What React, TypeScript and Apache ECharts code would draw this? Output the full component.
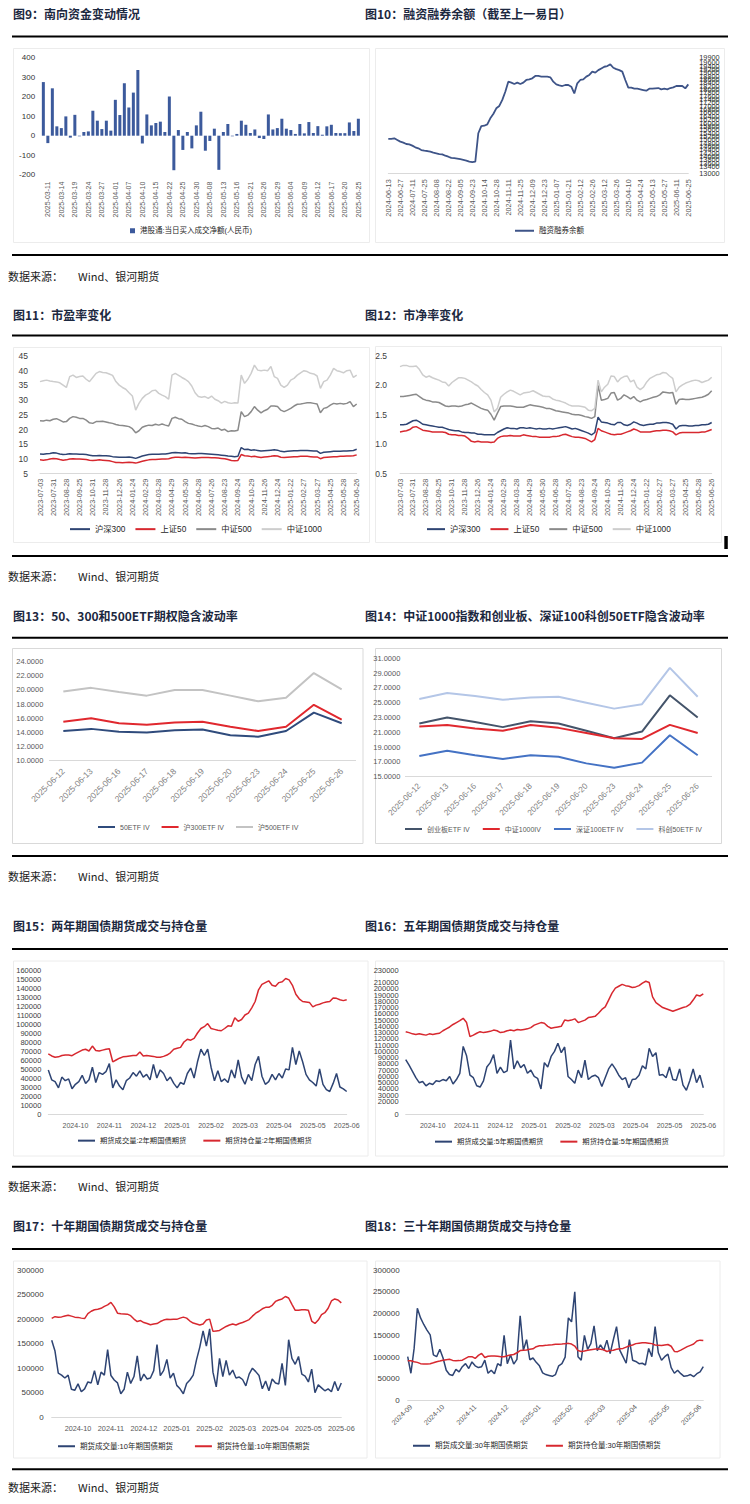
import React, { useEffect, useRef } from 'react';
import * as echarts from 'echarts';

// ---------------- 图9 南向资金 ----------------
const flowDates = ['2025-03-10','2025-03-11','2025-03-12','2025-03-13','2025-03-14','2025-03-17','2025-03-18','2025-03-19','2025-03-20','2025-03-21','2025-03-24','2025-03-25','2025-03-26','2025-03-27','2025-03-28','2025-03-31','2025-04-01','2025-04-02','2025-04-03','2025-04-07','2025-04-08','2025-04-09','2025-04-10','2025-04-11','2025-04-14','2025-04-15','2025-04-16','2025-04-17','2025-04-22','2025-04-23','2025-04-24','2025-04-25','2025-04-28','2025-04-29','2025-04-30','2025-05-06','2025-05-07','2025-05-08','2025-05-09','2025-05-12','2025-05-13','2025-05-14','2025-05-15','2025-05-16','2025-05-19','2025-05-20','2025-05-21','2025-05-22','2025-05-23','2025-05-26','2025-05-27','2025-05-28','2025-05-29','2025-05-30','2025-06-03','2025-06-04','2025-06-05','2025-06-06','2025-06-09','2025-06-10','2025-06-11','2025-06-12','2025-06-13','2025-06-16','2025-06-17','2025-06-18','2025-06-19','2025-06-20','2025-06-23','2025-06-24','2025-06-25'];
const flowValues = [275,-38,243,48,39,99,-10,107,-3,19,22,128,77,34,77,26,184,106,269,145,221,337,-40,109,53,65,72,19,201,-177,29,-73,19,-65,53,123,-77,-27,36,-175,19,60,-3,9,77,56,14,32,-12,-17,109,32,39,87,36,29,9,60,12,70,14,49,5,48,56,14,13,13,68,24,87];
const flowName = '港股通:当日买入成交净额(人民币)';

// ---------------- 图10 融资融券余额 ----------------
const marginLabels = ['2024-06-13','2024-06-27','2024-07-11','2024-07-25','2024-08-08','2024-08-22','2024-09-05','2024-09-23','2024-10-14','2024-10-28','2024-11-11','2024-11-25','2024-12-09','2024-12-23','2025-01-07','2025-01-21','2025-02-12','2025-02-26','2025-03-12','2025-03-26','2025-04-10','2025-04-24','2025-05-13','2025-05-27','2025-06-11','2025-06-25'];
const marginValues = [15050,15050,15090,14990,14890,14830,14750,14730,14650,14550,14490,14390,14350,14330,14290,14230,14190,14150,14130,14050,13990,13920,13900,13880,13840,13800,13760,13700,13660,13700,15390,15820,15840,15920,16280,16540,16880,17020,17380,17870,18470,18410,18330,18410,18330,18410,18570,18610,18670,18810,18810,18770,18770,18770,18730,18470,18310,18250,18210,18270,18270,18170,17770,18370,18570,18610,18770,18870,19070,19010,19160,19260,19360,19400,19500,19300,19220,19160,19070,18570,18110,18110,18050,18050,18010,17970,17930,18050,18050,18070,18090,18010,18050,18010,18090,18130,18210,18210,18210,18070,18310];
const marginName = '融资融券余额';

// ---------------- 图11 / 图12 估值 ----------------
const valuationLabels = ['2023-07-03','2023-07-31','2023-08-28','2023-09-25','2023-10-31','2023-11-28','2023-12-26','2024-01-24','2024-02-29','2024-03-28','2024-04-29','2024-05-30','2024-06-28','2024-07-26','2024-08-23','2024-09-24','2024-10-29','2024-11-26','2024-12-24','2025-01-22','2025-02-27','2025-03-27','2025-04-25','2025-05-28','2025-06-26'];
const indexNames = ['沪深300', '上证50', '中证500', '中证1000'];
const peHs300 = [11.7,11.6,11.8,11.9,12.1,12.0,11.7,11.5,11.6,11.8,11.7,11.7,11.6,11.6,11.5,11.3,11.1,11.1,11.2,11.1,11.1,11.0,10.8,10.7,10.6,10.6,10.6,10.7,10.5,10.2,10.6,11.0,11.3,11.5,11.6,11.6,11.6,11.7,11.7,11.9,12.1,12.2,12.1,12.0,12.1,11.9,11.8,11.8,11.9,11.9,11.8,11.7,11.6,11.5,11.4,11.3,11.2,11.0,10.9,10.8,10.9,13.9,13.2,13.3,13.0,13.1,12.9,12.7,12.8,12.9,13.0,13.1,13.0,12.6,12.5,12.6,12.7,12.8,12.8,12.9,12.9,12.9,12.8,12.7,12.7,11.9,12.3,12.4,12.5,12.6,12.6,12.6,12.7,12.7,12.8,12.9,13.3];
const peSz50 = [9.7,9.6,9.7,10.0,10.2,10.1,9.8,9.6,9.7,10.0,10.1,10.0,10.0,9.9,9.8,9.6,9.5,9.6,9.7,9.6,9.5,9.4,9.1,8.8,8.8,8.7,8.8,8.9,8.8,8.6,8.9,9.2,9.5,9.7,9.8,9.8,9.9,10.0,10.0,10.1,10.4,10.6,10.6,10.5,10.6,10.5,10.4,10.3,10.4,10.5,10.5,10.5,10.4,10.4,10.3,10.2,10.1,9.8,9.5,9.4,9.5,11.5,11.1,11.0,10.8,10.9,10.7,10.5,10.7,10.8,10.9,11.1,11.0,10.6,10.5,10.6,10.7,10.8,10.8,10.9,10.9,10.9,10.8,10.7,10.7,10.1,10.5,10.6,10.7,10.8,10.8,10.9,10.9,11.0,11.0,11.1,11.4];
const peZz500 = [23.0,22.9,23.2,23.0,23.5,23.7,23.2,22.6,22.7,23.8,24.4,24.2,23.8,23.8,23.2,22.3,22.1,22.7,22.7,22.8,22.6,22.3,22.1,21.7,21.5,21.4,21.2,21.0,20.3,18.9,19.6,20.8,21.2,21.5,21.4,21.8,21.5,21.9,21.5,21.2,23.8,24.2,23.7,23.5,22.7,22.1,21.9,21.5,21.2,21.0,21.4,21.0,20.4,20.3,20.5,19.8,20.1,19.3,19.6,19.5,19.8,26.1,24.4,24.9,26.1,27.8,26.6,25.7,26.4,26.9,28.0,28.0,27.8,26.6,26.1,26.6,27.2,28.0,28.6,28.7,28.9,29.1,29.1,28.9,28.7,25.7,27.2,27.5,28.3,28.9,28.7,28.9,28.7,28.9,29.5,27.8,28.7];
const peZz1000 = [36.3,36.6,36.8,36.5,36.3,36.2,35.9,35.1,34.3,38.0,38.5,37.7,38.0,38.2,37.1,36.3,37.7,39.1,39.7,39.4,39.3,38.9,38.4,36.3,35.1,34.3,33.7,32.5,31.4,26.6,28.9,30.6,31.7,32.3,33.2,33.4,32.3,31.7,31.2,30.3,38.5,39.1,38.4,37.7,37.1,36.3,34.8,32.5,31.2,31.0,31.2,30.6,31.4,30.3,29.8,29.0,29.6,29.1,28.9,29.1,29.0,38.5,35.7,37.1,39.1,41.9,40.2,40.0,40.2,40.0,41.4,38.0,37.4,35.1,34.3,35.1,36.8,37.4,38.5,39.3,40.0,39.7,39.1,38.9,38.2,34.0,36.3,36.8,38.5,40.8,40.0,39.7,39.3,40.0,40.2,37.7,38.5];
const pbHs300 = [1.33,1.33,1.34,1.37,1.40,1.41,1.38,1.34,1.33,1.32,1.31,1.30,1.29,1.29,1.27,1.25,1.24,1.23,1.23,1.21,1.20,1.20,1.19,1.19,1.17,1.17,1.16,1.16,1.16,1.16,1.20,1.23,1.26,1.28,1.27,1.27,1.26,1.28,1.28,1.27,1.28,1.27,1.26,1.27,1.26,1.26,1.27,1.26,1.27,1.28,1.29,1.30,1.28,1.26,1.27,1.25,1.23,1.21,1.19,1.16,1.20,1.46,1.38,1.37,1.36,1.34,1.33,1.37,1.37,1.33,1.32,1.34,1.38,1.36,1.33,1.32,1.33,1.34,1.34,1.36,1.36,1.37,1.37,1.36,1.34,1.26,1.31,1.32,1.32,1.31,1.31,1.32,1.32,1.33,1.33,1.34,1.37];
const pbSz50 = [1.21,1.22,1.23,1.25,1.29,1.30,1.27,1.24,1.23,1.22,1.21,1.21,1.21,1.21,1.20,1.17,1.16,1.16,1.15,1.15,1.14,1.10,1.05,1.04,1.05,1.04,1.04,1.04,1.03,1.04,1.10,1.13,1.14,1.14,1.15,1.14,1.14,1.14,1.16,1.15,1.14,1.13,1.13,1.12,1.12,1.12,1.12,1.13,1.13,1.14,1.16,1.17,1.15,1.13,1.12,1.12,1.11,1.10,1.07,1.04,1.08,1.27,1.23,1.21,1.19,1.17,1.16,1.17,1.17,1.19,1.21,1.23,1.26,1.24,1.21,1.21,1.21,1.21,1.22,1.23,1.23,1.24,1.24,1.23,1.21,1.16,1.19,1.20,1.20,1.20,1.20,1.20,1.20,1.21,1.21,1.23,1.25];
const pbZz500 = [1.81,1.81,1.82,1.83,1.84,1.85,1.81,1.77,1.75,1.74,1.72,1.72,1.71,1.68,1.65,1.64,1.65,1.65,1.64,1.65,1.67,1.68,1.70,1.67,1.64,1.61,1.59,1.58,1.51,1.41,1.53,1.64,1.65,1.65,1.65,1.64,1.63,1.63,1.63,1.65,1.67,1.66,1.65,1.64,1.63,1.61,1.61,1.59,1.57,1.56,1.55,1.54,1.53,1.51,1.50,1.50,1.49,1.47,1.46,1.44,1.47,2.00,1.75,1.76,1.78,1.87,1.88,1.75,1.78,1.84,1.81,1.77,1.81,1.75,1.72,1.75,1.76,1.78,1.80,1.81,1.84,1.89,1.88,1.87,1.88,1.68,1.76,1.77,1.76,1.76,1.77,1.78,1.79,1.80,1.82,1.85,1.91];
const pbZz1000 = [2.32,2.34,2.34,2.32,2.32,2.33,2.27,2.18,2.14,2.16,2.13,2.11,2.09,2.06,2.05,1.99,2.05,2.09,2.13,2.13,2.12,2.09,2.06,2.02,1.99,1.93,1.88,1.84,1.75,1.55,1.61,1.80,1.85,1.89,1.92,1.90,1.87,1.84,1.87,1.88,1.89,1.91,1.88,1.85,1.82,1.81,1.81,1.77,1.75,1.74,1.72,1.70,1.67,1.65,1.65,1.65,1.64,1.63,1.58,1.57,1.61,2.09,1.89,1.97,2.02,2.16,2.15,2.06,2.12,2.15,2.16,2.06,2.09,1.97,1.93,1.97,2.06,2.12,2.15,2.18,2.19,2.22,2.21,2.16,2.12,1.89,1.97,2.01,2.04,2.06,2.08,2.09,2.08,2.05,2.07,2.09,2.14];

// ---------------- 图13 / 图14 隐含波动率 ----------------
const ivDates = ['2025-06-12','2025-06-13','2025-06-16','2025-06-17','2025-06-18','2025-06-19','2025-06-20','2025-06-23','2025-06-24','2025-06-25','2025-06-26'];
const iv50 = [14.2,14.5,14.1,14.0,14.3,14.4,13.6,13.4,14.2,16.8,15.3];
const iv300 = [15.5,16.0,15.3,15.1,15.4,15.5,14.8,14.2,14.8,17.9,15.8];
const iv500 = [19.8,20.3,19.7,19.2,20.0,20.0,19.2,18.4,18.9,22.4,20.1];
const ivCyb = [22.2,23.0,22.4,21.7,22.5,22.2,21.2,20.2,21.1,26.0,23.0];
const ivZz1000 = [21.8,22.0,21.5,21.2,22.0,21.6,20.9,20.2,20.1,22.0,20.9];
const ivSz100 = [17.8,18.5,17.9,17.4,17.9,17.7,16.8,16.2,16.9,20.6,17.9];
const ivKc50 = [25.5,26.3,25.9,25.4,25.7,25.8,25.0,24.2,24.8,29.7,25.8];
const iv14Ticks = [15,17,19,21,23,25,27,29,31];

// ---------------- 图15-18 国债期货 ----------------
const bondMonths = ['2024-10','2024-11','2024-12','2025-01','2025-02','2025-03','2025-04','2025-05','2025-06'];
const bond2Vol = [49000,38000,36000,29000,41000,37000,39000,28000,33000,36000,43000,34000,38000,52000,35000,46000,44000,47000,56000,29000,38000,31000,27000,37000,40000,46000,42000,48000,41000,44000,38000,55000,40000,49000,45000,37000,41000,34000,29000,35000,33000,45000,51000,40000,58000,72000,65000,72000,52000,37000,48000,36000,39000,35000,49000,40000,60000,41000,33000,44000,37000,55000,64000,42000,33000,36000,44000,38000,45000,40000,50000,49000,74000,55000,70000,58000,44000,38000,35000,31000,50000,33000,27000,25000,34000,45000,30000,28000,25000];
const bond2Oi = [66700,64500,63000,63500,65000,65500,65500,64800,67000,69000,71000,71900,70000,75500,70500,70000,71000,72000,72500,58000,60000,62000,63500,64000,64500,65000,65000,69000,64500,65000,64500,64000,63000,63000,64000,65500,68000,71900,73000,74000,80000,83000,82000,84000,90000,95000,97000,100500,95000,94000,93000,92500,95000,98000,97500,107000,103000,105000,110000,112000,118000,125000,138000,144000,146000,148000,143000,142000,146000,147000,150500,149000,143000,133000,128000,125000,124500,124000,119000,121000,122000,123500,124500,125000,129000,128500,127000,126000,127000];
const bond5Vol = [87000,78000,68000,58000,50000,52000,45000,49000,47000,53000,52000,55000,53000,60000,48000,55000,65000,108000,93000,62000,58000,45000,43000,53000,75000,82000,95000,65000,75000,66000,69000,118000,72000,85000,74000,79000,65000,70000,60000,57000,40000,82000,75000,92000,100000,113000,98000,107000,60000,55000,49000,70000,58000,86000,55000,60000,62000,58000,44000,58000,72000,80000,72000,62000,55000,58000,42000,55000,56000,62000,77000,72000,105000,92000,98000,62000,63000,58000,75000,55000,54000,72000,46000,38000,53000,72000,50000,62000,42000];
const bond5Oi = [131500,130000,128000,127000,128000,127000,126000,128000,127000,128000,129000,133000,136000,139000,143000,146000,149000,152800,146000,123500,126000,129000,131500,130000,131000,132000,134000,133000,130000,131000,133000,134000,133000,135000,134000,135000,136000,138000,142000,144000,146000,145000,140000,137000,138000,139000,140000,150000,149000,150000,152000,146000,148000,150000,154000,155000,156000,161000,167000,171000,182000,193000,201000,204000,207000,205000,204000,202000,203000,205000,209000,212000,210000,187000,178000,174000,170000,168000,166000,164000,166000,168000,170000,171500,175000,182000,190000,188500,191700];
const bond10Vol = [157000,135000,90000,86000,80000,86000,57000,55000,68000,52000,58000,72000,70000,95000,66000,92000,86000,138000,85000,76000,70000,48000,57000,92000,69000,83000,125000,74000,88000,78000,80000,95000,148000,85000,95000,118000,80000,90000,65000,58000,48000,69000,76000,86000,117000,143000,176000,145000,180000,92000,62000,120000,83000,116000,86000,96000,80000,82000,77000,64000,88000,100000,93000,85000,58000,74000,54000,78000,70000,68000,110000,65000,158000,120000,108000,124000,88000,84000,72000,98000,50000,66000,60000,54000,58000,52000,73000,54000,70000];
const bond10Oi = [201600,205000,204000,204500,206500,208000,206000,204000,203500,202000,201000,211000,216000,219000,220000,222000,226000,229000,234000,225000,212000,211000,210500,210000,207000,200000,195000,197000,193000,191000,188500,190000,191000,195000,198000,199500,199000,199500,199500,202000,204000,202000,196000,192000,190000,188000,190000,198000,200000,175000,176000,177000,181000,185000,188000,190000,188000,191000,193000,196000,199000,206000,212000,216000,221000,224000,224000,228000,236000,239000,241000,246000,243000,230000,218000,218000,219000,219000,218000,196000,191000,198000,209000,213000,222000,237000,241000,239000,233000];
const longMonths = ['2024-09','2024-10','2024-11','2024-12','2025-01','2025-02','2025-03','2025-04','2025-05','2025-06'];
const bond30Vol = [101000,63000,120000,212000,190000,175000,162000,151000,105000,101000,118000,98000,70000,60000,58000,72000,66000,78000,85000,74000,89000,80000,76000,78000,93000,63000,70000,62000,85000,80000,150000,85000,105000,84000,95000,195000,116000,140000,94000,98000,88000,80000,64000,60000,58000,56000,60000,80000,85000,100000,190000,181000,250000,101000,93000,150000,118000,131000,172000,115000,128000,116000,139000,108000,140000,170000,116000,101000,86000,140000,93000,90000,85000,86000,82000,120000,101000,170000,110000,93000,101000,107000,76000,63000,70000,62000,56000,57000,60000,55000,62000,66000,78000];
const bond30Oi = [91800,91800,89500,88000,85000,84000,84000,85000,87000,89500,91000,93000,94000,95000,92500,91800,92000,93000,97000,101000,101000,97000,104000,108700,99000,102000,102600,102600,102000,101000,101000,103000,105000,106000,110000,115000,116000,116300,118000,119000,124000,126000,126300,127000,128000,128500,129300,129500,130000,131000,131600,130000,125500,115000,113000,114000,116000,117000,118000,119000,118000,117000,113000,115000,116000,118000,119000,120000,123000,126000,128000,131000,132000,133000,133000,132000,131000,128000,127000,126500,127800,129000,125000,113000,112500,116000,120000,124000,127000,130000,137000,139000,138000];

// ---------------- 文本 ----------------
const titles = [
  { text: '图9：南向资金变动情况', x: 13, y: 7 },
  { text: '图10：融资融券余额（截至上一易日）', x: 365, y: 7 },
  { text: '图11：市盈率变化', x: 13, y: 308 },
  { text: '图12：市净率变化', x: 365, y: 308 },
  { text: '图13：50、300和500ETF期权隐含波动率', x: 13, y: 609 },
  { text: '图14：中证1000指数和创业板、深证100科创50ETF隐含波动率', x: 365, y: 609 },
  { text: '图15：两年期国债期货成交与持仓量', x: 13, y: 919 },
  { text: '图16：五年期国债期货成交与持仓量', x: 365, y: 919 },
  { text: '图17：十年期国债期货成交与持仓量', x: 13, y: 1219 },
  { text: '图18：三十年期国债期货成交与持仓量', x: 365, y: 1219 },
];
const sourceRows = [270, 570, 870, 1180, 1481];
const ruleRows = [35.5, 254, 334.5, 555, 636.8, 855, 948, 1165.8, 1248, 1468.3];

const LAT = '"Liberation Sans", "Noto Sans CJK SC", sans-serif';
const CJK = '"Noto Sans CJK SC", sans-serif';
const AX = '#d9d9d9';
const NAVY = '#2e4473';
const RED = '#d7282f';

function spread(labels: string[], step: number): string[] {
  const out: string[] = [];
  labels.forEach((l, k) => {
    out.push(l);
    if (k < labels.length - 1) for (let j = 1; j < step; j++) out.push('');
  });
  return out;
}
function placeLabels(n: number, labels: string[], first: number, step: number): string[] {
  const out: string[] = new Array(n).fill('');
  labels.forEach((l, k) => { out[first + k * step] = l; });
  return out;
}

function catX(gridIndex: number, data: string[], o: any = {}) {
  const axisLabel: any = {
    interval: o.interval ?? 0,
    rotate: o.rotate ?? 0,
    fontSize: o.fontSize ?? 7,
    color: o.color ?? '#595959',
    margin: o.margin ?? 6,
    fontFamily: LAT,
  };
  return {
    type: 'category', gridIndex, data, boundaryGap: o.boundaryGap ?? false,
    axisLine: { show: o.line !== false, onZero: false, lineStyle: { color: AX, width: 1 } },
    axisTick: { show: false }, splitLine: { show: false },
    axisLabel,
  };
}
const plain = (v: number) => String(v);
function valY(gridIndex: number, min: number, max: number, interval: number | null, o: any = {}) {
  const axisLabel: any = {
    fontSize: o.fontSize ?? 7.5, color: o.color ?? '#404040', margin: o.margin ?? 6, fontFamily: LAT,
    showMinLabel: true, showMaxLabel: true,
    formatter: o.formatter ?? plain,
  };
  if (o.customValues) axisLabel.customValues = o.customValues;
  const ax: any = {
    type: 'value', gridIndex, min, max, position: o.position ?? 'left',
    axisLine: { show: false }, axisTick: { show: false }, splitLine: { show: false },
    axisLabel,
  };
  if (interval !== null) ax.interval = interval;
  return ax;
}
function line(name: string, data: number[], idx: number, color: string, width: number) {
  return {
    type: 'line', name, data, xAxisIndex: idx, yAxisIndex: idx, color,
    symbol: 'none', showSymbol: false, lineStyle: { width, color }, itemStyle: { color },
    emphasis: { disabled: true }, silent: true,
  };
}
function leg(names: string[], left: number, top: number, o: any = {}) {
  return {
    data: names, left, top, orient: 'horizontal', icon: o.icon ?? 'rect',
    itemWidth: o.w ?? 18, itemHeight: o.h ?? 2, itemGap: o.gap ?? 12, padding: 0,
    selectedMode: false,
    textStyle: { fontSize: o.fontSize ?? 7.5, color: o.color ?? '#262626', fontFamily: LAT },
  };
}

function buildOption() {
  const grids = [
    { left: 41.1, top: 57.7, width: 319.5, height: 117 },
    { left: 388.3, top: 57.7, width: 300, height: 115.6 },
    { left: 40, top: 356, width: 316.7, height: 117.7 },
    { left: 400, top: 356, width: 311.7, height: 117.7 },
    { left: 49.4, top: 661.7, width: 306.2, height: 99 },
    { left: 405.4, top: 658.3, width: 306.2, height: 118.4 },
    { left: 48.3, top: 970, width: 298.4, height: 144 },
    { left: 405.7, top: 970, width: 297.6, height: 144 },
    { left: 51.7, top: 1270, width: 289.6, height: 147.3 },
    { left: 407.7, top: 1270, width: 295.6, height: 130.7 },
  ].map((g) => ({ ...g, containLabel: false, outerBoundsMode: 'none', show: false }));

  const bondCats = placeLabels(bond2Vol.length, bondMonths, 8, 10);
  const longCats = placeLabels(bond30Vol.length, longMonths, 1, 10);
  const fmt4 = (v: number) => v.toFixed(4);
  const fmt1 = (v: number) => v.toFixed(1);

  const xAxis = [
    { ...catX(0, flowDates, { boundaryGap: true, line: false }),
      axisLabel: { interval: (i: number) => i % 3 === 1, rotate: 90, fontSize: 7, color: '#595959', margin: 7, fontFamily: LAT } },
    catX(1, spread(marginLabels, 4), { rotate: 90, fontSize: 7.3, margin: 6 }),
    catX(2, spread(valuationLabels, 4), { rotate: 90, fontSize: 7.3, margin: 5 }),
    catX(3, spread(valuationLabels, 4), { rotate: 90, fontSize: 7.3, margin: 5 }),
    catX(4, ivDates, { boundaryGap: true, rotate: 45, fontSize: 8.5, color: '#7f7f7f', margin: 9 }),
    catX(5, ivDates, { boundaryGap: true, rotate: 45, fontSize: 8.2, color: '#7f7f7f', margin: 8 }),
    catX(6, bondCats, { fontSize: 7, margin: 8 }),
    catX(7, bondCats, { fontSize: 7, margin: 8 }),
    catX(8, bondCats, { fontSize: 7.3, margin: 8 }),
    catX(9, longCats, { rotate: 45, fontSize: 7, margin: 5 }),
  ];

  const yAxis = [
    valY(0, -200, 400, 100, { fontSize: 8, color: '#333', margin: 6 }),
    valY(1, 13000, 19900, 200, { fontSize: 7.3, color: '#333', margin: 11, position: 'right' }),
    valY(2, 5, 45, 5, { fontSize: 8.5, color: '#404040', margin: 12 }),
    valY(3, 0.5, 2.5, 0.5, { fontSize: 8.5, color: '#404040', margin: 13, formatter: fmt1 }),
    valY(4, 10, 24, 2, { fontSize: 7.5, color: '#595959', margin: 6, formatter: fmt4 }),
    valY(5, 15, 31, null, { fontSize: 7.5, color: '#595959', margin: 5, formatter: fmt4, customValues: iv14Ticks }),
    valY(6, 0, 160000, 10000, { fontSize: 7.5, margin: 7 }),
    valY(7, 0, 230000, 10000, { fontSize: 7.5, margin: 7 }),
    valY(8, 0, 300000, 50000, { fontSize: 8, margin: 8 }),
    valY(9, 0, 300000, 50000, { fontSize: 8, margin: 8 }),
  ];

  const series: any[] = [
    { type: 'bar', name: flowName, data: flowValues, xAxisIndex: 0, yAxisIndex: 0, barWidth: 3, color: '#3c5a9c', itemStyle: { color: '#3c5a9c' }, silent: true },
    line(marginName, marginValues, 1, '#3e5488', 1.8),
    line(indexNames[0], peHs300, 2, NAVY, 1.5),
    line(indexNames[1], peSz50, 2, RED, 1.5),
    line(indexNames[2], peZz500, 2, '#8a8a8a', 1.5),
    line(indexNames[3], peZz1000, 2, '#cdcdcd', 1.5),
    line(indexNames[0], pbHs300, 3, NAVY, 1.5),
    line(indexNames[1], pbSz50, 3, RED, 1.5),
    line(indexNames[2], pbZz500, 3, '#8a8a8a', 1.5),
    line(indexNames[3], pbZz1000, 3, '#cdcdcd', 1.5),
    line('50ETF IV', iv50, 4, '#2f4b7c', 2),
    line('沪300ETF IV', iv300, 4, '#e0282e', 2),
    line('沪500ETF IV', iv500, 4, '#c3c3c3', 2),
    line('创业板ETF IV', ivCyb, 5, '#44546a', 2),
    line('中证1000IV', ivZz1000, 5, '#e0282e', 2),
    line('深证100ETF IV', ivSz100, 5, '#4472c4', 2),
    line('科创50ETF IV', ivKc50, 5, '#b4c6e7', 2),
    line('期货成交量:2年期国债期货', bond2Vol, 6, NAVY, 1.5),
    line('期货持仓量:2年期国债期货', bond2Oi, 6, RED, 1.5),
    line('期货成交量:5年期国债期货', bond5Vol, 7, NAVY, 1.5),
    line('期货持仓量:5年期国债期货', bond5Oi, 7, RED, 1.5),
    line('期货成交量:10年期国债期货', bond10Vol, 8, NAVY, 1.5),
    line('期货持仓量:10年期国债期货', bond10Oi, 8, RED, 1.5),
    line('期货成交量:30年期国债期货', bond30Vol, 9, NAVY, 1.5),
    line('期货持仓量:30年期国债期货', bond30Oi, 9, RED, 1.5),
  ];

  const legend = [
    leg([flowName], 130, 227, { w: 5, h: 5, fontSize: 7.5 }),
    leg([marginName], 515, 227, { w: 19, fontSize: 7.5 }),
    leg(indexNames, 70, 525, { w: 20, gap: 10, fontSize: 8.3 }),
    leg(indexNames, 427, 525, { w: 18, gap: 10, fontSize: 8.3 }),
    leg(['50ETF IV', '沪300ETF IV', '沪500ETF IV'], 98, 823.5, { w: 17, gap: 12, fontSize: 7, color: '#595959' }),
    leg(['创业板ETF IV', '中证1000IV', '深证100ETF IV', '科创50ETF IV'], 405, 825.5, { w: 17, gap: 13, fontSize: 7, color: '#595959' }),
    leg(['期货成交量:2年期国债期货', '期货持仓量:2年期国债期货'], 78, 1137, { w: 17, gap: 17, fontSize: 7.3 }),
    leg(['期货成交量:5年期国债期货', '期货持仓量:5年期国债期货'], 435, 1138, { w: 17, gap: 17, fontSize: 7.3 }),
    leg(['期货成交量:10年期国债期货', '期货持仓量:10年期国债期货'], 58, 1442.5, { w: 17, gap: 22, fontSize: 7.5 }),
    leg(['期货成交量:30年期国债期货', '期货持仓量:30年期国债期货'], 413, 1442, { w: 17, gap: 18, fontSize: 7.5 }),
  ];

  const panels = [
    [13.5, 48.5, 356, 194, '#ececec'], [375.5, 48.5, 349, 194, '#ececec'],
    [13.5, 347.5, 356, 195, '#ececec'], [375.5, 346.5, 346, 196, '#ececec'],
    [12.5, 648.5, 350.5, 195, '#d9d9d9'], [375.5, 648.5, 346, 195, '#d9d9d9'],
    [13.5, 961, 354.5, 195, '#ececec'], [375.5, 961, 348.5, 195, '#ececec'],
    [13.5, 1261, 353.5, 197, '#ececec'], [375.5, 1261, 344.5, 197, '#ececec'],
  ];

  const elements: any[] = [];
  panels.forEach(([x, y, w, h, c]) => {
    elements.push({ type: 'rect', shape: { x, y, width: w, height: h }, style: { fill: 'none', stroke: c, lineWidth: 1 }, silent: true, z: 0 });
  });
  ruleRows.forEach((y) => {
    elements.push({ type: 'rect', shape: { x: 12, y, width: 716, height: 2 }, style: { fill: '#000' }, silent: true });
  });
  titles.forEach((t) => {
    elements.push({ type: 'text', x: t.x, y: t.y, style: { text: t.text, fill: '#1c2840', font: `bold 12px ${CJK}` }, silent: true });
  });
  sourceRows.forEach((y) => {
    elements.push({ type: 'text', x: 8, y, style: { text: '数据来源：', fill: '#1a1a1a', font: `11px ${CJK}` }, silent: true });
    elements.push({ type: 'text', x: 78, y, style: { text: 'Wind、银河期货', fill: '#1a1a1a', font: `11px ${CJK}` }, silent: true });
  });
  elements.push({ type: 'rect', shape: { x: 724.3, y: 536, width: 3.5, height: 13 }, style: { fill: '#000' }, silent: true });

  return {
    animation: false,
    backgroundColor: '#ffffff',
    grid: grids,
    xAxis,
    yAxis,
    series,
    legend,
    graphic: { elements },
  };
}

export default function App() {
  const ref = useRef<HTMLDivElement>(null);
  useEffect(() => {
    if (!ref.current) return;
    const chart = echarts.init(ref.current, null, { renderer: 'svg', width: 750, height: 1504 });
    chart.setOption(buildOption() as any);
    return () => chart.dispose();
  }, []);
  return (
    <div
      ref={ref}
      style={{ position: 'absolute', left: 0, top: 0, width: 750, height: 1504, background: '#fff' }}
    />
  );
}
